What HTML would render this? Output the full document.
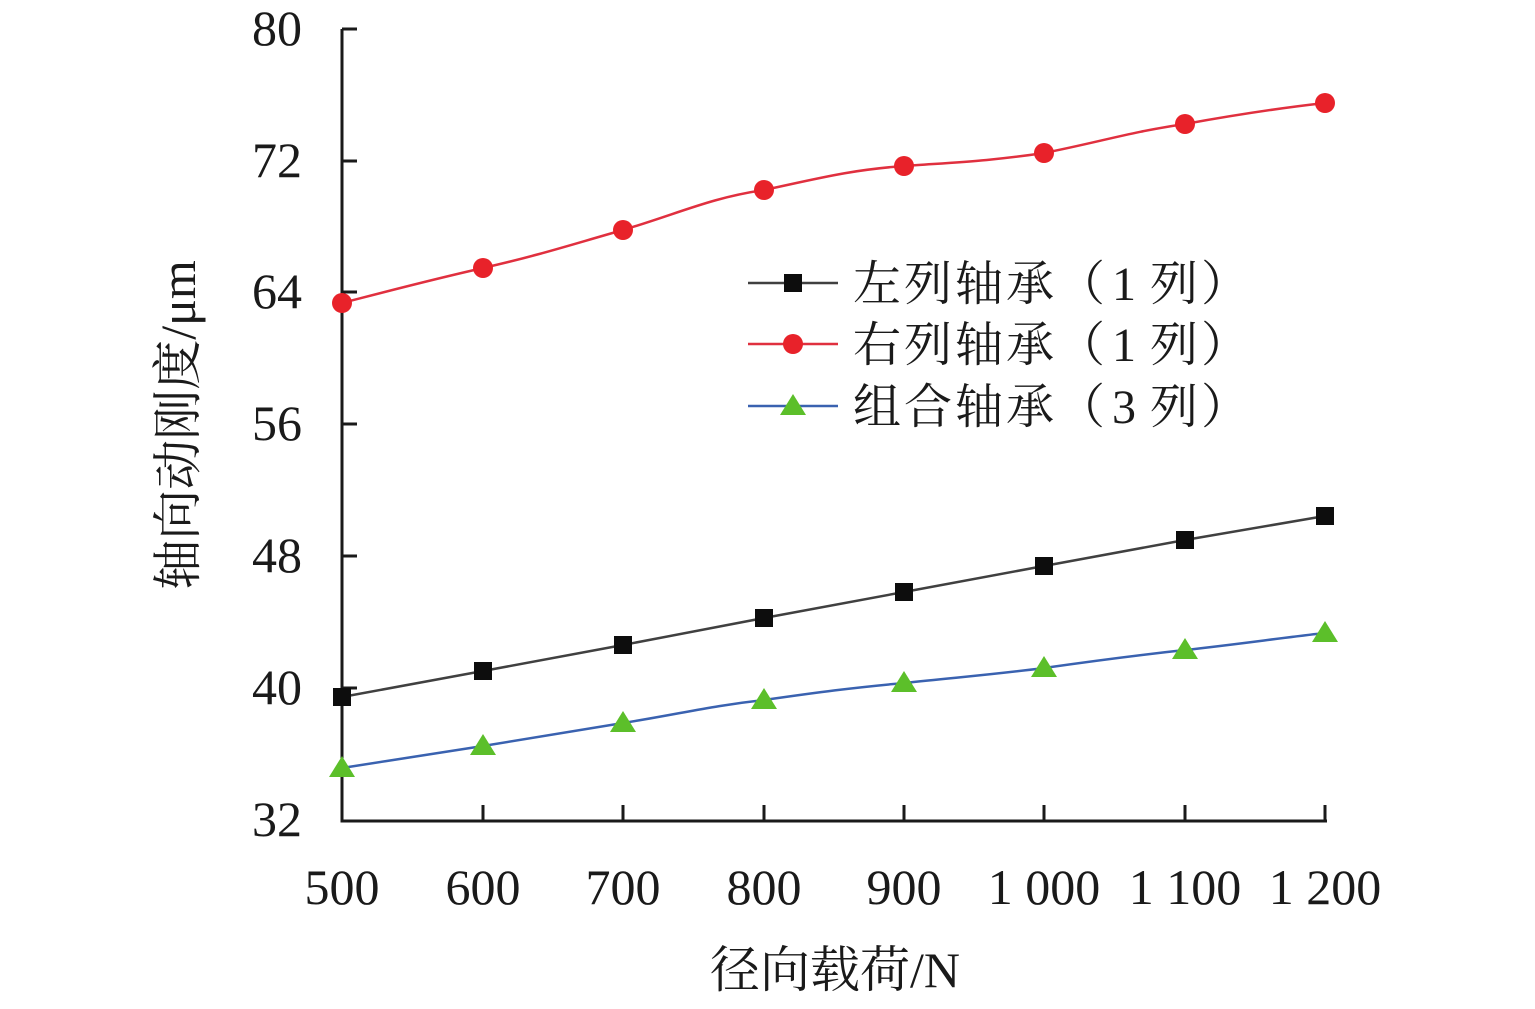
<!DOCTYPE html>
<html><head><meta charset="utf-8"><style>
html,body{margin:0;padding:0;background:#fff;}
svg text{font-family:"Liberation Serif","Noto Serif CJK SC",serif;fill:#1a1a1a;}
</style></head><body>
<svg width="1535" height="1004" viewBox="0 0 1535 1004" xmlns="http://www.w3.org/2000/svg">
<g stroke="#1a1a1a" stroke-width="3" fill="none">
<polyline points="342,29 342,821 1327,821"/>
<path d="M342,29H357M342,161H357M342,292H357M342,424H357M342,556H357M342,688H357"/>
<path d="M483,821V805M623,821V805M764,821V805M904,821V805M1044,821V805M1185,821V805M1325,821V805"/>
</g>
<g font-size="50" text-anchor="end">
<text x="302" y="45">80</text><text x="302" y="177">72</text><text x="302" y="308">64</text>
<text x="302" y="440">56</text><text x="302" y="572">48</text><text x="302" y="704">40</text><text x="302" y="836">32</text>
</g>
<g font-size="50" text-anchor="middle">
<text x="342" y="904">500</text><text x="483" y="904">600</text><text x="623" y="904">700</text>
<text x="764" y="904">800</text><text x="904" y="904">900</text><text x="1044" y="904">1 000</text>
<text x="1185" y="904">1 100</text><text x="1325" y="904">1 200</text>
<text x="835" y="987">径向载荷/N</text>
<text transform="translate(195,425) rotate(-90)">轴向动刚度/μm</text>
</g>
<g fill="none" stroke-width="2.5">
<path stroke="#e0303f" d="M342,303 C400,288 430,280 483,268 C540,255 570,245 623,230 C680,213 710,198 764,190 C820,178 850,170 904,166 C960,162 990,161 1044,153 C1100,142 1130,132 1185,124 C1240,114 1280,108 1325,103"/>
<polyline stroke="#404040" points="342,697 483,671 623,645 764,618 904,592 1044,566 1185,540 1325,516"/>
<path stroke="#3a62b0" d="M342,768 L483,746 L623,723 C680,714 710,706 764,700 C820,692 850,688 904,683 C960,677 990,675 1044,668 C1100,660 1130,656 1185,650 C1240,644 1280,638 1325,633"/>
<path stroke="#404040" d="M748,283H838"/><path stroke="#e0303f" d="M748,344H838"/><path stroke="#3a62b0" d="M748,406H838"/>
</g>
<g fill="#e8222a">
<circle cx="342" cy="303" r="10"/><circle cx="483" cy="268" r="10"/><circle cx="623" cy="230" r="10"/><circle cx="764" cy="190" r="10"/>
<circle cx="904" cy="166" r="10"/><circle cx="1044" cy="153" r="10"/><circle cx="1185" cy="124" r="10"/><circle cx="1325" cy="103" r="10"/>
<circle cx="793" cy="344" r="10"/>
</g>
<g fill="#0d0d0d">
<rect x="333" y="688" width="18" height="18"/><rect x="474" y="662" width="18" height="18"/><rect x="614" y="636" width="18" height="18"/>
<rect x="755" y="609" width="18" height="18"/><rect x="895" y="583" width="18" height="18"/><rect x="1035" y="557" width="18" height="18"/>
<rect x="1176" y="531" width="18" height="18"/><rect x="1316" y="507" width="18" height="18"/><rect x="784" y="274" width="18" height="18"/>
</g>
<g fill="#5cbf2a">
<path d="M342,756l13,21h-26z"/><path d="M483,734l13,21h-26z"/><path d="M623,711l13,21h-26z"/><path d="M764,688l13,21h-26z"/>
<path d="M904,671l13,21h-26z"/><path d="M1044,656l13,21h-26z"/><path d="M1185,638l13,21h-26z"/><path d="M1325,621l13,21h-26z"/>
<path d="M793,394l13,21h-26z"/>
</g>
<g font-size="48">
<text x="853" y="300" letter-spacing="3">左列轴承（</text><text x="1112" y="300">1</text><text x="1150" y="300" letter-spacing="3">列）</text>
<text x="853" y="361" letter-spacing="3">右列轴承（</text><text x="1112" y="361">1</text><text x="1150" y="361" letter-spacing="3">列）</text>
<text x="853" y="423" letter-spacing="3">组合轴承（</text><text x="1112" y="423">3</text><text x="1150" y="423" letter-spacing="3">列）</text>
</g>
</svg>
</body></html>
